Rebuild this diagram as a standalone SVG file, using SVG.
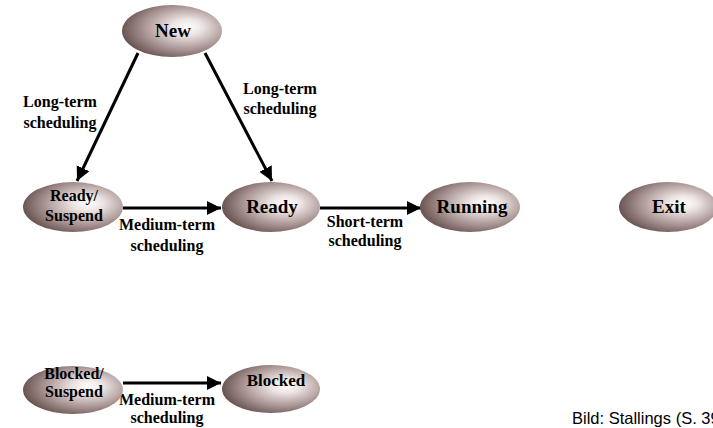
<svg xmlns="http://www.w3.org/2000/svg" width="713" height="428" viewBox="0 0 713 428">
<defs>
<radialGradient id="g" cx="0.62" cy="0.45" r="0.62" fx="0.66" fy="0.42">
<stop offset="0" stop-color="#ffffff"/>
<stop offset="0.25" stop-color="#ece4e3"/>
<stop offset="0.65" stop-color="#ad9997"/>
<stop offset="1" stop-color="#6a5553"/>
</radialGradient>
<marker id="ah" markerUnits="userSpaceOnUse" markerWidth="16" markerHeight="16" refX="14" refY="7" orient="auto" viewBox="0 0 16 14">
<path d="M0,0 L14,7 L0,14 z" fill="#000"/>
</marker>
<style>
.n{fill:url(#g);}
.t{font-family:"Liberation Serif","Times New Roman",serif;font-weight:bold;fill:#000;text-anchor:middle;}
.big{font-size:19px;}
.mid{font-size:17px;}
.sm{font-size:16px;}
.c{stroke:#000;stroke-width:3;fill:none;marker-end:url(#ah);}
.src{font-family:"Liberation Sans",Arial,sans-serif;font-size:16.5px;fill:#000;}
</style>
</defs>
<g id="connectors">
<line class="c" x1="138" y1="53" x2="77" y2="181"/>
<line class="c" x1="205" y1="53" x2="272" y2="181"/>
<line class="c" x1="123" y1="208" x2="221" y2="208"/>
<line class="c" x1="320" y1="208" x2="421" y2="208"/>
<line class="c" x1="123" y1="383" x2="221" y2="383"/>
<text class="t sm" x="60" y="107">Long-term</text>
<text class="t sm" x="60" y="128">scheduling</text>
<text class="t sm" x="280" y="94">Long-term</text>
<text class="t sm" x="280" y="114">scheduling</text>
<text class="t sm" x="167" y="230">Medium-term</text>
<text class="t sm" x="167" y="251">scheduling</text>
<text class="t sm" x="365" y="227">Short-term</text>
<text class="t sm" x="365" y="246">scheduling</text>
<text class="t sm" x="167" y="405">Medium-term</text>
<text class="t sm" x="167" y="423">scheduling</text>
</g>
<g id="new">
<ellipse class="n" cx="172" cy="31" rx="50" ry="26"/>
<text class="t big" x="173" y="37">New</text>
</g>
<g id="ready-suspend">
<ellipse class="n" cx="73" cy="207" rx="50" ry="25"/>
<text class="t sm" x="74" y="201">Ready/</text>
<text class="t sm" x="74" y="221">Suspend</text>
</g>
<g id="ready">
<ellipse class="n" cx="271" cy="207" rx="49" ry="25"/>
<text class="t big" x="272" y="213">Ready</text>
</g>
<g id="running">
<ellipse class="n" cx="470" cy="207" rx="50" ry="25"/>
<text class="t big" x="472" y="213">Running</text>
</g>
<g id="exit">
<ellipse class="n" cx="668" cy="207" rx="49" ry="25"/>
<text class="t big" x="669" y="213">Exit</text>
</g>
<g id="blocked-suspend">
<ellipse class="n" cx="73" cy="390" rx="50" ry="24"/>
<text class="t sm" x="74" y="379">Blocked/</text>
<text class="t sm" x="74" y="397">Suspend</text>
</g>
<g id="blocked">
<ellipse class="n" cx="271" cy="389" rx="49" ry="24"/>
<text class="t mid" x="276" y="386">Blocked</text>
</g>
<text class="src" x="572" y="424">Bild: Stallings (S. 39</text>
</svg>
